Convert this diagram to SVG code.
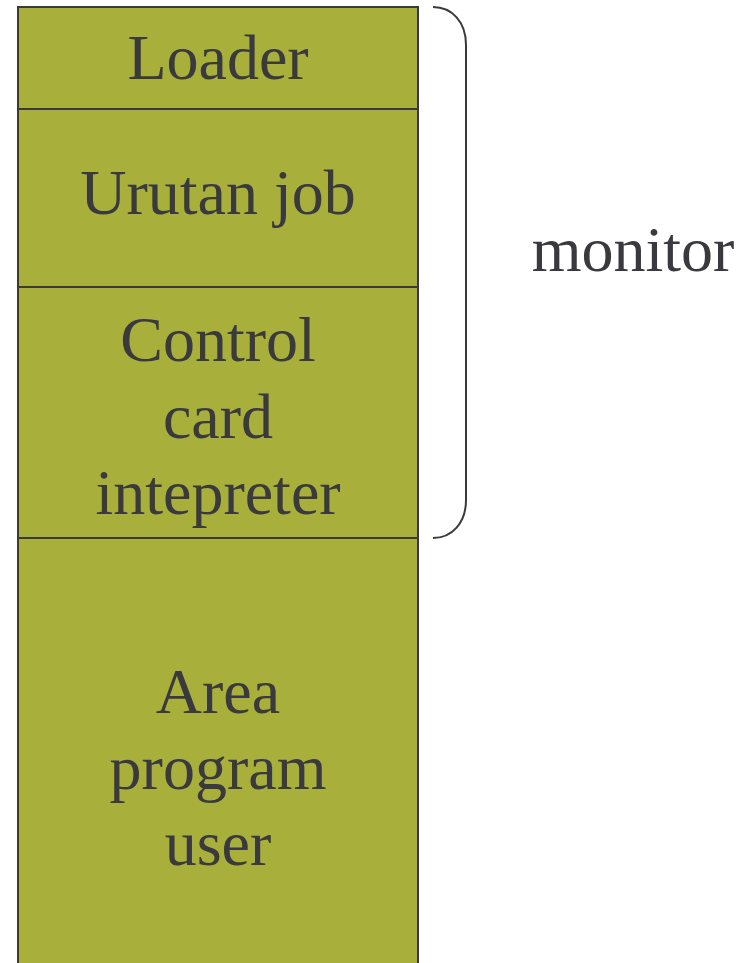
<svg xmlns="http://www.w3.org/2000/svg" width="748" height="963" viewBox="0 0 748 963">
<style>
.box{fill:#A8AF3A;stroke:#3A393E;stroke-width:2}
.t{font-family:"Liberation Serif","Times New Roman",serif;font-size:64px;fill:#3A393E;text-anchor:middle}
.brace{fill:none;stroke:#3A393E;stroke-width:2}
</style>
<rect width="748" height="963" fill="#FFFFFF"/>
<g id="loader">
<rect class="box" x="18" y="7" width="400" height="102"/>
<text class="t" x="218" y="79">Loader</text>
</g>
<g id="urutan-job">
<rect class="box" x="18" y="109" width="400" height="178"/>
<text class="t" x="218" y="214">Urutan job</text>
</g>
<g id="control-card">
<rect class="box" x="18" y="287" width="400" height="251"/>
<text class="t" x="218" y="361">Control</text>
<text class="t" x="218" y="438">card</text>
<text class="t" x="218" y="514">intepreter</text>
</g>
<g id="area-program">
<rect class="box" x="18" y="538" width="400" height="430"/>
<text class="t" x="218" y="713">Area</text>
<text class="t" x="218" y="789">program</text>
<text class="t" x="218" y="865">user</text>
</g>
<g id="connectors">
<path class="brace" d="M433,7 C452,7 466,22 466,45 L466,500 C466,523 452,538 433,538"/>
</g>
<g id="monitor-label">
<text class="t" x="633" y="271">monitor</text>
</g>
</svg>
